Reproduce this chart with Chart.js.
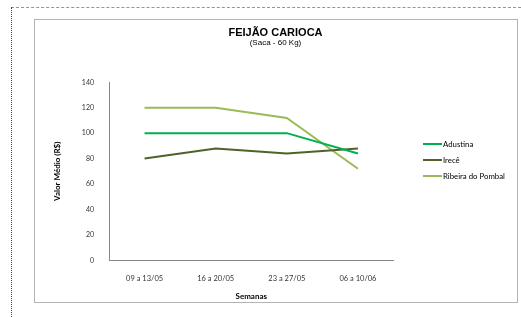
<!DOCTYPE html>
<html>
<head>
<meta charset="utf-8">
<script src="https://cdn.jsdelivr.net/npm/chart.js@4"></script>
<style>
  html, body { margin: 0; padding: 0; background: #fff; }
  body { width: 521px; height: 317px; position: relative; overflow: hidden; }
  #outerTop { position: absolute; left: 11px; top: 7px; width: 510px; height: 0; border-top: 1px dashed #8e9c86; }
  #outerLeft { position: absolute; left: 11px; top: 7px; width: 0; height: 310px; border-left: 1px dotted #2f4f2f; }
  #frame { position: absolute; left: 34px; top: 19px; width: 482px; height: 282px; border: 1px solid #b3b3b3; pointer-events: none; }
  #c { position: absolute; left: 34px; top: 19px; }
  #title { position: absolute; left: 34px; width: 483px; top: 25px; text-align: center; font: bold 11px 'Liberation Sans', Arial, sans-serif; line-height: 14px; color: #000; }
  #subtitle { position: absolute; left: 34px; width: 483px; top: 37px; text-align: center; font: 8px 'Liberation Sans', Arial, sans-serif; line-height: 11px; color: #000; }
  #legend { position: absolute; left: 423px; top: 136px; font: 7.8px Lato, sans-serif; color: #000; }
  #legend .item { height: 16px; display: flex; align-items: center; white-space: nowrap; }
  #legend .sw { width: 19px; height: 2px; margin-right: 1px; }
</style>
</head>
<body>
<div id="outerTop"></div>
<div id="outerLeft"></div>
<canvas id="c" width="483" height="283"></canvas>
<div id="frame"></div>
<div id="title"></div>
<div id="subtitle"></div>
<div id="legend"></div>
<script>
const chartTitle = 'FEIJÃO CARIOCA';
const chartSubtitle = '(Saca - 60 Kg)';
const categories = ['09 a 13/05', '16 a 20/05', '23 a 27/05', '06 a 10/06'];
const seriesNames = ['Adustina', 'Irecê', 'Ribeira do Pombal'];
const adustina = [100, 100, 100, 84];
const irece = [80, 88, 84, 88];
const ribeira = [120, 120, 112, 72];
const seriesColors = ['#00b050', '#4f6228', '#9bbb59'];

document.getElementById('title').textContent = chartTitle;
document.getElementById('subtitle').textContent = chartSubtitle;

const values = [adustina, irece, ribeira];
const datasets = seriesNames.map((name, i) => ({
  label: name,
  data: values[i],
  borderColor: seriesColors[i],
  backgroundColor: seriesColors[i],
  borderWidth: 2,
  pointRadius: 0,
  tension: 0,
  fill: false
}));

new Chart(document.getElementById('c'), {
  type: 'line',
  data: { labels: categories, datasets },
  options: {
    responsive: false,
    animation: false,
    devicePixelRatio: 1,
    layout: { padding: { left: 0, right: 123.5, top: 63.3, bottom: 0 } },
    plugins: {
      legend: { display: false },
      tooltip: { enabled: false }
    },
    scales: {
      x: {
        offset: true,
        grid: { display: false, offset: true },
        border: { display: true, color: '#868686', width: 1 },
        ticks: { color: '#333', font: { family: 'Lato', size: 7.5 }, padding: 6, maxRotation: 0 },
        title: {
          display: true, text: 'Semanas', color: '#000',
          font: { family: 'Lato', size: 8, weight: 'bold' },
          padding: { top: 0, bottom: 0.5 }
        },
        afterFit(scale) { scale.height = 41.7; }
      },
      y: {
        min: 0, max: 140,
        grid: { display: false },
        border: { display: true, color: '#868686', width: 1 },
        ticks: { stepSize: 20, color: '#333', font: { family: 'Lato', size: 7 }, padding: 7 },
        title: {
          display: true, text: 'Valor Médio (R$)', color: '#000',
          font: { family: 'Lato', size: 8, weight: 'bold' },
          padding: { top: 19, bottom: 0 }
        },
        afterFit(scale) { scale.width = 75; }
      }
    }
  }
});

const legend = document.getElementById('legend');
seriesNames.forEach((name, i) => {
  const item = document.createElement('div');
  item.className = 'item';
  const sw = document.createElement('span');
  sw.className = 'sw';
  sw.style.background = seriesColors[i];
  const t = document.createElement('span');
  t.textContent = name;
  item.appendChild(sw);
  item.appendChild(t);
  legend.appendChild(item);
});
</script>
</body>
</html>
